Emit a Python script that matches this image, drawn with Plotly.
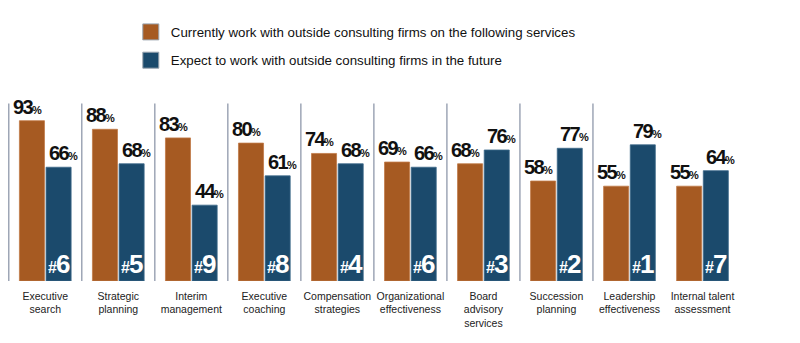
import plotly.graph_objects as go

categories = ["Executive<br>search", "Strategic<br>planning", "Interim<br>management",
              "Executive<br>coaching", "Compensation<br>strategies", "Organizational<br>effectiveness",
              "Board<br>advisory<br>services", "Succession<br>planning", "Leadership<br>effectiveness",
              "Internal talent<br>assessment"]
current = [93, 88, 83, 80, 74, 69, 68, 58, 55, 55]
future = [66, 68, 44, 61, 68, 66, 76, 77, 79, 64]
ranks = [6, 5, 9, 8, 4, 6, 3, 2, 1, 7]
series_names = ["Currently work with outside consulting firms on the following services",
                "Expect to work with outside consulting firms in the future"]

ORANGE = "#a65a22"
BLUE = "#1b4a6c"
NUMFONT = "Liberation Sans, Arial, sans-serif"
COND = "letter-spacing:-1.6px;font-weight:bold"


def pct(v):
    return ("<span style='" + COND + "'>" + str(v) +
            "<span style='font-size:11px;letter-spacing:-0.5px'>%</span></span>")


fig = go.Figure()
fig.add_bar(x=categories, y=current, marker=dict(color=ORANGE, line=dict(color="#c07a48", width=0.8)),
            showlegend=False, hoverinfo="skip")
fig.add_bar(x=categories, y=future, marker=dict(color=BLUE, line=dict(color="#3d6a8a", width=0.8)),
            showlegend=False, hoverinfo="skip")

# legend entries
for name, col, grp in [(series_names[0], ORANGE, "a"), (series_names[1], BLUE, "b")]:
    fig.add_scatter(x=[None], y=[None], mode="markers", name=name, legendgroup=grp,
                    marker=dict(symbol="square", size=16, color=col, line=dict(color="#9aa4b0", width=1)))

# value labels above bars
for c, a, b in zip(categories, current, future):
    fig.add_annotation(x=c, y=a, xref="x", yref="y", xanchor="right", yanchor="bottom",
                       xshift=-1, yshift=1, text=pct(a), showarrow=False,
                       font=dict(family=NUMFONT, size=20, color="#111111"))
    fig.add_annotation(x=c, y=b, xref="x", yref="y", xanchor="left", yanchor="bottom",
                       xshift=2, yshift=1, text=pct(b), showarrow=False,
                       font=dict(family=NUMFONT, size=20, color="#111111"))

# rank labels inside blue bars
for c, r in zip(categories, ranks):
    fig.add_annotation(x=c, y=0, xref="x", yref="y", xshift=14, yshift=0, yanchor="bottom",
                       text=("<span style='letter-spacing:-1px;font-weight:bold'>"
                             "<span style='font-size:16px'>#</span>" + str(r) + "</span>"),
                       showarrow=False,
                       font=dict(family=NUMFONT, size=26, color="white"))

# separators
for i in range(len(categories) - 1):
    fig.add_shape(type="line", xref="x", yref="y", x0=i - 0.5, x1=i - 0.5, y0=0, y1=103,
                  line=dict(color="#9ea6b6", width=1.5))

fig.update_layout(
    width=800, height=343, margin=dict(l=8, r=61, t=100, b=62),
    paper_bgcolor="white", plot_bgcolor="white",
    barmode="group", bargap=0.27, bargroupgap=0.06,
    font=dict(family="Liberation Sans, Arial, sans-serif", size=10.5, color="#222222"),
    legend=dict(x=0.168, y=1.46, xanchor="left", yanchor="top", tracegroupgap=8,
                font=dict(size=13.3, color="#111111"), bgcolor="rgba(0,0,0,0)"),
    xaxis=dict(showline=False, showgrid=False, ticks="", ticklabelstandoff=7,
               tickfont=dict(size=10.5, color="#222222")),
    yaxis=dict(range=[0, 105], visible=False, showgrid=False),
)
fig.write_html("out.html")
